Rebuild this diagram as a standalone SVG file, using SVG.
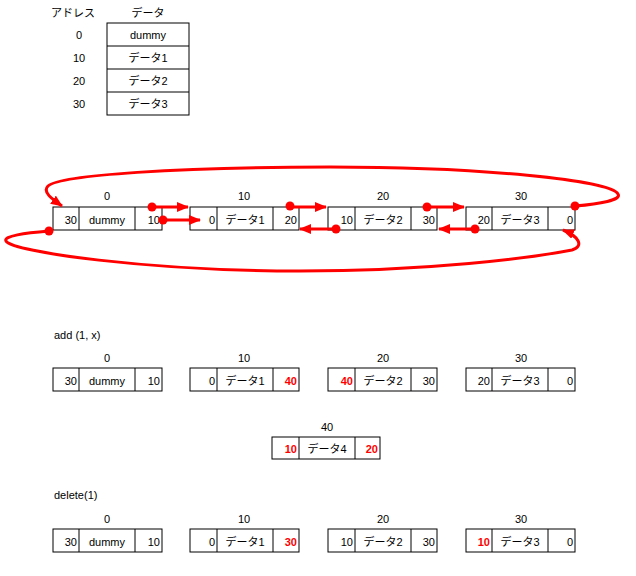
<svg xmlns="http://www.w3.org/2000/svg" width="636" height="576" viewBox="0 0 636 576">
<style>
text{font-family:"Liberation Sans","Noto Sans CJK JP",sans-serif;font-size:11px;fill:#000}
.m{text-anchor:middle}
.e{text-anchor:end}
.r{fill:#ff0000;font-weight:bold}
.box{fill:#fff;stroke:#000;stroke-width:1}
.div{stroke:#000;stroke-width:1}
.ln{fill:none;stroke:#ff0000;stroke-width:3}
.dot{fill:#ff0000}
</style>
<defs>
<marker id="ah" markerUnits="userSpaceOnUse" viewBox="0 0 12 10" markerWidth="12" markerHeight="10" refX="11" refY="5" orient="auto">
<path d="M0,0 L12,5 L0,10 z" fill="#ff0000"/>
</marker>
</defs>
<rect width="636" height="576" fill="#fff"/>

<g id="table">
<text class="m" x="73" y="17">アドレス</text>
<text class="m" x="148" y="17">データ</text>
<rect class="box" x="107" y="23" width="82" height="92"/>
<line class="div" x1="107" y1="46" x2="189" y2="46"/>
<line class="div" x1="107" y1="69" x2="189" y2="69"/>
<line class="div" x1="107" y1="92" x2="189" y2="92"/>
<text class="m" x="79" y="38.5">0</text>
<text class="m" x="79" y="61.5">10</text>
<text class="m" x="79" y="84.5">20</text>
<text class="m" x="79" y="107.5">30</text>
<text class="m" x="148" y="38.5">dummy</text>
<text class="m" x="148" y="61.5">データ1</text>
<text class="m" x="148" y="84.5">データ2</text>
<text class="m" x="148" y="107.5">データ3</text>
</g>

<!-- Row 1 -->
<g id="r1n0">
<text class="m" x="107" y="200">0</text>
<rect class="box" x="53" y="207" width="109" height="23"/>
<line class="div" x1="79" y1="207" x2="79" y2="230"/>
<line class="div" x1="135" y1="207" x2="135" y2="230"/>
<text class="e" x="77" y="223.5">30</text>
<text class="m" x="107" y="223.5">dummy</text>
<text class="e" x="160" y="223.5">10</text>
</g>
<g id="r1n10">
<text class="m" x="244" y="200">10</text>
<rect class="box" x="190" y="207" width="109" height="23"/>
<line class="div" x1="217" y1="207" x2="217" y2="230"/>
<line class="div" x1="273" y1="207" x2="273" y2="230"/>
<text class="e" x="215" y="223.5">0</text>
<text class="m" x="245" y="223.5">データ1</text>
<text class="e" x="297" y="223.5">20</text>
</g>
<g id="r1n20">
<text class="m" x="383" y="200">20</text>
<rect class="box" x="328" y="207" width="109" height="23"/>
<line class="div" x1="355" y1="207" x2="355" y2="230"/>
<line class="div" x1="411" y1="207" x2="411" y2="230"/>
<text class="e" x="353" y="223.5">10</text>
<text class="m" x="383" y="223.5">データ2</text>
<text class="e" x="435" y="223.5">30</text>
</g>
<g id="r1n30">
<text class="m" x="521" y="200">30</text>
<rect class="box" x="466" y="207" width="109" height="23"/>
<line class="div" x1="492" y1="207" x2="492" y2="230"/>
<line class="div" x1="548" y1="207" x2="548" y2="230"/>
<text class="e" x="490" y="223.5">20</text>
<text class="m" x="520" y="223.5">データ3</text>
<text class="e" x="573" y="223.5">0</text>
</g>

<g id="connectors">
<line class="ln" x1="152" y1="207" x2="188" y2="207" marker-end="url(#ah)"/>
<line class="ln" x1="163" y1="220" x2="200" y2="220" marker-end="url(#ah)"/>
<line class="ln" x1="290" y1="207" x2="326" y2="207" marker-end="url(#ah)"/>
<line class="ln" x1="336" y1="229" x2="300" y2="229" marker-end="url(#ah)"/>
<line class="ln" x1="427" y1="207" x2="464" y2="207" marker-end="url(#ah)"/>
<line class="ln" x1="475" y1="229" x2="439" y2="229" marker-end="url(#ah)"/>
<path class="ln" d="M575,206 C600,204 622,200 618,194 C610,180 480,167 330,167 C180,167 60,175 48,186 C42,192 52,199 62,206" marker-end="url(#ah)"/>
<path class="ln" d="M49,231 C25,233 3,236 6,241 C12,252 150,271 300,271 C430,271 530,258 572,250 C585,246 578,236 563,230" marker-end="url(#ah)"/>
<circle class="dot" cx="152" cy="207" r="4.5"/>
<circle class="dot" cx="163" cy="220" r="4.5"/>
<circle class="dot" cx="290" cy="206" r="4.5"/>
<circle class="dot" cx="336" cy="229" r="4.5"/>
<circle class="dot" cx="427" cy="207" r="4.5"/>
<circle class="dot" cx="475" cy="229" r="4.5"/>
<circle class="dot" cx="575" cy="206" r="4.5"/>
<circle class="dot" cx="49" cy="231" r="4.5"/>
</g>

<!-- add section -->
<text x="54" y="339">add (1, x)</text>
<g id="r2n0">
<text class="m" x="107" y="362">0</text>
<rect class="box" x="53" y="368" width="109" height="23"/>
<line class="div" x1="79" y1="368" x2="79" y2="391"/>
<line class="div" x1="135" y1="368" x2="135" y2="391"/>
<text class="e" x="77" y="384.5">30</text>
<text class="m" x="107" y="384.5">dummy</text>
<text class="e" x="160" y="384.5">10</text>
</g>
<g id="r2n10">
<text class="m" x="244" y="362">10</text>
<rect class="box" x="190" y="368" width="109" height="23"/>
<line class="div" x1="217" y1="368" x2="217" y2="391"/>
<line class="div" x1="273" y1="368" x2="273" y2="391"/>
<text class="e" x="215" y="384.5">0</text>
<text class="m" x="245" y="384.5">データ1</text>
<text class="e r" x="297" y="384.5">40</text>
</g>
<g id="r2n20">
<text class="m" x="383" y="362">20</text>
<rect class="box" x="328" y="368" width="109" height="23"/>
<line class="div" x1="355" y1="368" x2="355" y2="391"/>
<line class="div" x1="411" y1="368" x2="411" y2="391"/>
<text class="e r" x="353" y="384.5">40</text>
<text class="m" x="383" y="384.5">データ2</text>
<text class="e" x="435" y="384.5">30</text>
</g>
<g id="r2n30">
<text class="m" x="521" y="362">30</text>
<rect class="box" x="466" y="368" width="109" height="23"/>
<line class="div" x1="492" y1="368" x2="492" y2="391"/>
<line class="div" x1="548" y1="368" x2="548" y2="391"/>
<text class="e" x="490" y="384.5">20</text>
<text class="m" x="520" y="384.5">データ3</text>
<text class="e" x="573" y="384.5">0</text>
</g>
<g id="r2n40">
<text class="m" x="327" y="431">40</text>
<rect class="box" x="272" y="437" width="108" height="22"/>
<line class="div" x1="299" y1="437" x2="299" y2="459"/>
<line class="div" x1="355" y1="437" x2="355" y2="459"/>
<text class="e r" x="297" y="453">10</text>
<text class="m" x="327" y="453">データ4</text>
<text class="e r" x="378" y="453">20</text>
</g>

<!-- delete section -->
<text x="54" y="499">delete(1)</text>
<g id="r3n0">
<text class="m" x="107" y="523">0</text>
<rect class="box" x="53" y="529" width="109" height="23"/>
<line class="div" x1="79" y1="529" x2="79" y2="552"/>
<line class="div" x1="135" y1="529" x2="135" y2="552"/>
<text class="e" x="77" y="545.5">30</text>
<text class="m" x="107" y="545.5">dummy</text>
<text class="e" x="160" y="545.5">10</text>
</g>
<g id="r3n10">
<text class="m" x="244" y="523">10</text>
<rect class="box" x="190" y="529" width="109" height="23"/>
<line class="div" x1="217" y1="529" x2="217" y2="552"/>
<line class="div" x1="273" y1="529" x2="273" y2="552"/>
<text class="e" x="215" y="545.5">0</text>
<text class="m" x="245" y="545.5">データ1</text>
<text class="e r" x="297" y="545.5">30</text>
</g>
<g id="r3n20">
<text class="m" x="383" y="523">20</text>
<rect class="box" x="328" y="529" width="109" height="23"/>
<line class="div" x1="355" y1="529" x2="355" y2="552"/>
<line class="div" x1="411" y1="529" x2="411" y2="552"/>
<text class="e" x="353" y="545.5">10</text>
<text class="m" x="383" y="545.5">データ2</text>
<text class="e" x="435" y="545.5">30</text>
</g>
<g id="r3n30">
<text class="m" x="521" y="523">30</text>
<rect class="box" x="466" y="529" width="109" height="23"/>
<line class="div" x1="492" y1="529" x2="492" y2="552"/>
<line class="div" x1="548" y1="529" x2="548" y2="552"/>
<text class="e r" x="490" y="545.5">10</text>
<text class="m" x="520" y="545.5">データ3</text>
<text class="e" x="573" y="545.5">0</text>
</g>
</svg>
